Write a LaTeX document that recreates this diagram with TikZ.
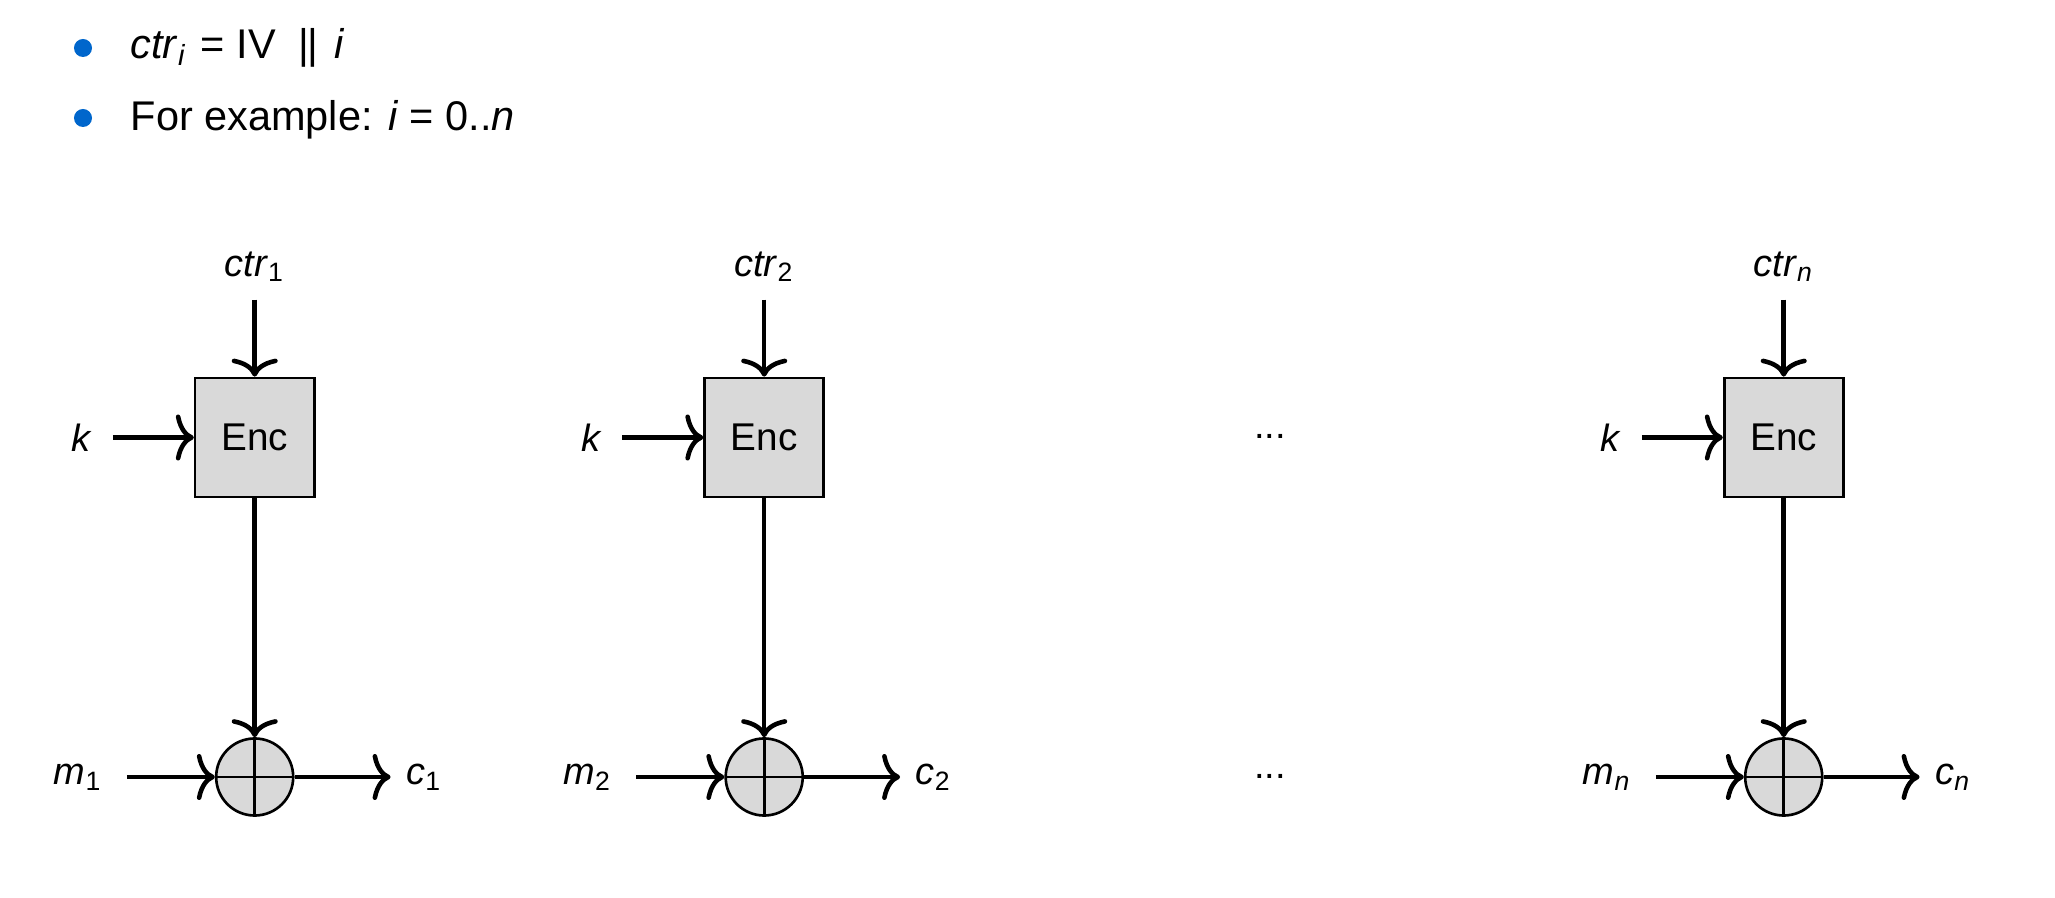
\documentclass[tikz,border=0pt]{standalone}
\usepackage{fontspec}
\setmainfont{Liberation Sans}
\usetikzlibrary{positioning,arrows.meta}
\definecolor{boxgray}{RGB}{217,217,217}
\definecolor{dotblue}{RGB}{0,102,204}
\newcommand{\varsub}[2]{\textit{#1}\textsubscript{#2}}
\begin{document}
\begin{tikzpicture}[
        x=0.01cm, y=-0.01cm,
        every node/.style={font=\fontsize{10.8}{12}\selectfont},
        encbox/.style={draw, line width=0.75pt, fill=boxgray, minimum size=1.19cm, inner sep=0pt, font=\fontsize{11}{13}\selectfont},
        xorc/.style={draw, circle, line width=0.75pt, fill=boxgray, minimum size=0.77cm, inner sep=0pt,
            path picture={\draw[line width=0.75pt] (path picture bounding box.north) -- (path picture bounding box.south)
                (path picture bounding box.west) -- (path picture bounding box.east);}},
        lbl/.style={inner sep=0pt},
        arr/.style={line width=1.3pt, -{Computer Modern Rightarrow[length=1.8mm,width=4.6mm]}},
        itemdot/.style={circle, fill=dotblue, minimum size=0.18cm, inner sep=0pt},
        item/.style={anchor=base west, inner sep=0pt, font=\fontsize{11.8}{14}\selectfont},
    ]
    \useasboundingbox (0,0) rectangle (2055,898);

    % bullet list
    \node[itemdot] (dot1) at (83,48) {};
    \node[itemdot] (dot2) at (83,118) {};
    \node[item] (line1) at (130,59) {\textit{ctr}\textsubscript{\textit{i}}\hspace{0.33em}= IV\hspace{0.55em}\textbar\hspace{-0.05em}\textbar\hspace{0.4em}\textit{i}};
    \node[item] (line2) at (130,131) {For example: \textit{i} = 0..\textit{n}};

    % block 1
    \node[encbox] (enc1) at (254.7,437.5) {Enc};
    \node[xorc] (xor1) at (254.7,777) {};
    \coordinate[above=0.77cm of enc1.north] (ctrin1);
    \node[lbl, above=0.17cm of ctrin1] (ctr1) {\varsub{ctr}{1}};
    \coordinate[left=0.81cm of enc1.west] (kin1);
    \node[lbl, left=0.2cm of kin1] (k1) {\textit{k}};
    \coordinate[left=0.88cm of xor1.west] (min1);
    \node[lbl, left=0.24cm of min1] (m1) {\varsub{m}{1}};
    \coordinate[right=0.96cm of xor1.east] (cout1);
    \node[lbl, right=0.15cm of cout1] (c1) {\varsub{c}{1}};
    \draw[arr] (ctrin1) -- (enc1);
    \draw[arr] (kin1) -- (enc1);
    \draw[arr] (enc1) -- (xor1);
    \draw[arr] (min1) -- (xor1);
    \draw[arr] (xor1) -- (cout1);

    % block 2
    \node[encbox] (enc2) at (764.2,437.5) {Enc};
    \node[xorc] (xor2) at (764.2,777) {};
    \coordinate[above=0.77cm of enc2.north] (ctrin2);
    \node[lbl, above=0.17cm of ctrin2] (ctr2) {\varsub{ctr}{2}};
    \coordinate[left=0.81cm of enc2.west] (kin2);
    \node[lbl, left=0.2cm of kin2] (k2) {\textit{k}};
    \coordinate[left=0.88cm of xor2.west] (min2);
    \node[lbl, left=0.24cm of min2] (m2) {\varsub{m}{2}};
    \coordinate[right=0.96cm of xor2.east] (cout2);
    \node[lbl, right=0.15cm of cout2] (c2) {\varsub{c}{2}};
    \draw[arr] (ctrin2) -- (enc2);
    \draw[arr] (kin2) -- (enc2);
    \draw[arr] (enc2) -- (xor2);
    \draw[arr] (min2) -- (xor2);
    \draw[arr] (xor2) -- (cout2);

    % gap
    \node[lbl, anchor=base] (dotsA) at (1270,439) {...};
    \node[lbl, anchor=base] (dotsB) at (1270,779) {...};

    % block n
    \node[encbox] (encn) at (1783.7,437.5) {Enc};
    \node[xorc] (xorn) at (1783.7,777) {};
    \coordinate[above=0.77cm of encn.north] (ctrinn);
    \node[lbl, above=0.17cm of ctrinn] (ctrn) {\varsub{ctr}{\textit{n}}};
    \coordinate[left=0.81cm of encn.west] (kinn);
    \node[lbl, left=0.2cm of kinn] (kn) {\textit{k}};
    \coordinate[left=0.88cm of xorn.west] (minn);
    \node[lbl, left=0.24cm of minn] (mn) {\varsub{m}{\textit{n}}};
    \coordinate[right=0.96cm of xorn.east] (coutn);
    \node[lbl, right=0.15cm of coutn] (cn) {\varsub{c}{\textit{n}}};
    \draw[arr] (ctrinn) -- (encn);
    \draw[arr] (kinn) -- (encn);
    \draw[arr] (encn) -- (xorn);
    \draw[arr] (minn) -- (xorn);
    \draw[arr] (xorn) -- (coutn);
\end{tikzpicture}
\end{document}
